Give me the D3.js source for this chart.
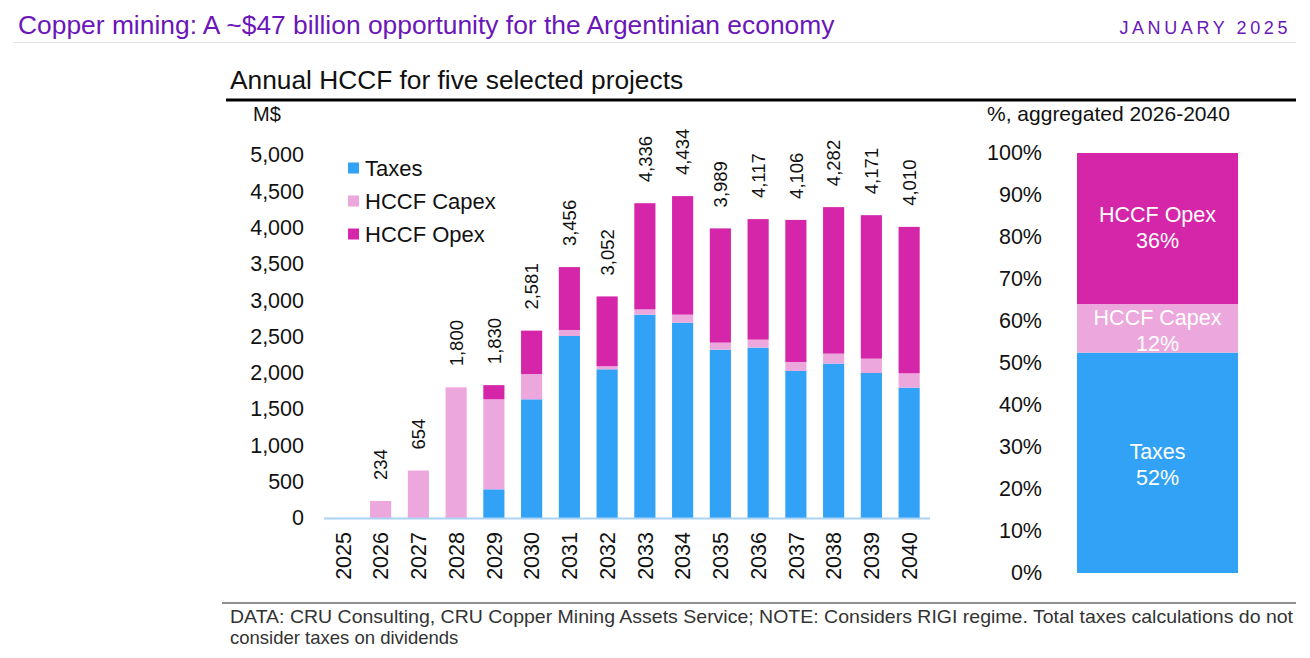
<!DOCTYPE html>
<html>
<head>
<meta charset="utf-8">
<script src="https://cdn.jsdelivr.net/npm/d3@7"></script>
<style>
  html, body { margin: 0; padding: 0; background: #fff; }
  svg { display: block; font-family: "Liberation Sans", Arial, sans-serif; }
</style>
</head>
<body>
<svg id="chart" width="1310" height="658"></svg>
<script>
// ---------- data ----------
const years = ["2025","2026","2027","2028","2029","2030","2031","2032","2033","2034","2035","2036","2037","2038","2039","2040"];
const taxes = [0, 0, 0, 0, 395, 1635, 2507, 2048, 2801, 2691, 2319, 2347, 2025, 2127, 1997, 1796];
const capex = [0, 234, 654, 1800, 1240, 348, 83, 42, 73, 110, 97, 110, 124, 137, 198, 197];
const opex  = [0, 0, 0, 0, 195, 598, 866, 962, 1462, 1633, 1573, 1660, 1957, 2018, 1976, 2017];
const totals = [null, 234, 654, 1800, 1830, 2581, 3456, 3052, 4336, 4434, 3989, 4117, 4106, 4282, 4171, 4010];
const seriesNames = ["Taxes", "HCCF Capex", "HCCF Opex"];
const seriesColors = ["#31a2f5", "#eca8dc", "#d526a9"];
const yTicks = [0, 500, 1000, 1500, 2000, 2500, 3000, 3500, 4000, 4500, 5000];
const pctTicks = [0, 10, 20, 30, 40, 50, 60, 70, 80, 90, 100];

const titleText = "Copper mining: A ~$47 billion opportunity for the Argentinian economy";
const dateText = "JANUARY 2025";
const chartTitle = "Annual HCCF for five selected projects";
const leftUnit = "M$";
const rightUnit = "%, aggregated 2026-2040";
const footLines = ["DATA: CRU Consulting, CRU Copper Mining Assets Service; NOTE: Considers RIGI regime. Total taxes calculations do not",
                   "consider taxes on dividends"];

const svg = d3.select("#chart");
const FF = "Liberation Sans, Arial, sans-serif";

// ---------- header ----------
svg.append("text").attr("x", 18).attr("y", 34)
  .attr("font-size", 26.4).attr("fill", "#6a16b8").text(titleText);
svg.append("text").attr("x", 1291).attr("y", 34).attr("text-anchor", "end")
  .attr("font-size", 18).attr("letter-spacing", 3.6).attr("fill", "#6a16b8").text(dateText);
svg.append("line").attr("x1", 13).attr("x2", 1296).attr("y1", 42.5).attr("y2", 42.5)
  .attr("stroke", "#dfe2e8").attr("stroke-width", 1);

svg.append("text").attr("x", 230).attr("y", 89).attr("font-size", 26.3).attr("fill", "#111").text(chartTitle);
svg.append("line").attr("x1", 226).attr("x2", 1296).attr("y1", 100).attr("y2", 100)
  .attr("stroke", "#000").attr("stroke-width", 3);

svg.append("text").attr("x", 253).attr("y", 121).attr("font-size", 20).attr("fill", "#111").text(leftUnit);
svg.append("text").attr("x", 987).attr("y", 121).attr("font-size", 21).attr("fill", "#111").text(rightUnit);

// ---------- left stacked bar chart ----------
const x = d3.scaleBand().domain(years).range([324, 928]).paddingInner(0.44).paddingOuter(0.22);
const y = d3.scaleLinear().domain([0, 5000]).range([518, 155]);

const rows = years.map((yr, i) => ({ year: yr, Taxes: taxes[i], "HCCF Capex": capex[i], "HCCF Opex": opex[i] }));
const stack = d3.stack().keys(seriesNames)(rows);

const gBars = svg.append("g");
gBars.selectAll("g.series").data(stack).join("g")
  .attr("fill", (d, i) => seriesColors[i])
  .selectAll("rect").data(d => d).join("rect")
  .attr("x", d => x(d.data.year))
  .attr("width", x.bandwidth())
  .attr("y", d => y(d[1]))
  .attr("height", d => Math.max(0, y(d[0]) - y(d[1])));

// baseline
svg.append("line").attr("x1", 324).attr("x2", 930).attr("y1", y(0) + 0.5).attr("y2", y(0) + 0.5)
  .attr("stroke", "#a9d2f3").attr("stroke-width", 2);

// y axis labels
const yAxis = d3.axisLeft(y).tickValues(yTicks).tickSize(0).tickPadding(0).tickFormat(d3.format(","));
const gy = svg.append("g").attr("transform", "translate(304,0)").call(yAxis);
gy.select(".domain").remove();
gy.selectAll("text").attr("font-size", 21.5).attr("fill", "#111").attr("font-family", FF);

// x axis labels (rotated)
const xAxis = d3.axisBottom(x).tickSize(0).tickPadding(0);
const gx = svg.append("g").attr("transform", "translate(0,532)").call(xAxis);
gx.select(".domain").remove();
gx.selectAll("text")
  .attr("font-size", 21.5).attr("fill", "#111").attr("font-family", FF)
  .attr("transform", "rotate(-90)")
  .attr("text-anchor", "end").attr("x", 0).attr("y", 0).attr("dy", "0.36em");

// total labels (rotated)
svg.append("g").selectAll("text").data(years.map((yr, i) => ({ yr, t: totals[i] })).filter(d => d.t != null))
  .join("text")
  .attr("transform", d => `translate(${x(d.yr) + x.bandwidth() / 2},${y(d.t) - 21}) rotate(-90)`)
  .attr("dy", "0.36em").attr("font-size", 18.5).attr("fill", "#111")
  .text(d => d3.format(",")(d.t));

// legend
const lg = svg.append("g");
seriesNames.forEach((name, i) => {
  const cy = 168 + i * 33;
  lg.append("rect").attr("x", 348).attr("y", cy - 5.5).attr("width", 11).attr("height", 11).attr("fill", seriesColors[i]);
  lg.append("text").attr("x", 365).attr("y", cy).attr("dy", "0.36em").attr("font-size", 22).attr("fill", "#111").text(name);
});

// ---------- right 100% bar ----------
const sums = [d3.sum(taxes), d3.sum(capex), d3.sum(opex)];
const grand = d3.sum(sums);
const shares = sums.map(s => s / grand * 100);
const yp = d3.scaleLinear().domain([0, 100]).range([573, 153]);

const gyp = svg.append("g").attr("transform", "translate(1042,0)")
  .call(d3.axisLeft(yp).tickValues(pctTicks).tickSize(0).tickPadding(0).tickFormat(d => d + "%"));
gyp.select(".domain").remove();
gyp.selectAll("text").attr("font-size", 21.5).attr("fill", "#111").attr("font-family", FF);

let acc = 0;
const segs = shares.map((s, i) => { const d = { name: seriesNames[i], y0: acc, y1: acc + s, share: s, color: seriesColors[i] }; acc += s; return d; });
const bx0 = 1077, bx1 = 1238;
svg.append("g").selectAll("rect").data(segs).join("rect")
  .attr("x", bx0).attr("width", bx1 - bx0)
  .attr("y", d => yp(d.y1)).attr("height", d => yp(d.y0) - yp(d.y1))
  .attr("fill", d => d.color);

const labelCenters = [25.8, 57.9, 82.4];
svg.append("g").selectAll("g").data(segs).join("g")
  .each(function (d, i) {
    const g = d3.select(this);
    const c = yp(labelCenters[i]);
    g.append("text").attr("x", (bx0 + bx1) / 2).attr("y", c - 13).attr("dy", "0.36em")
      .attr("text-anchor", "middle").attr("font-size", 21.5).attr("fill", "#fff").text(d.name);
    g.append("text").attr("x", (bx0 + bx1) / 2).attr("y", c + 13).attr("dy", "0.36em")
      .attr("text-anchor", "middle").attr("font-size", 21.5).attr("fill", "#fff").text(Math.round(d.share) + "%");
  });

// ---------- footer ----------
svg.append("line").attr("x1", 222).attr("x2", 1296).attr("y1", 603).attr("y2", 603)
  .attr("stroke", "#222").attr("stroke-width", 1.2);
svg.append("text").attr("x", 230).attr("y", 623).attr("font-size", 18.5).attr("fill", "#333")
  .attr("textLength", 1063).attr("lengthAdjust", "spacingAndGlyphs").text(footLines[0]);
svg.append("text").attr("x", 230).attr("y", 644).attr("font-size", 18.5).attr("fill", "#333").text(footLines[1]);
</script>
</body>
</html>
